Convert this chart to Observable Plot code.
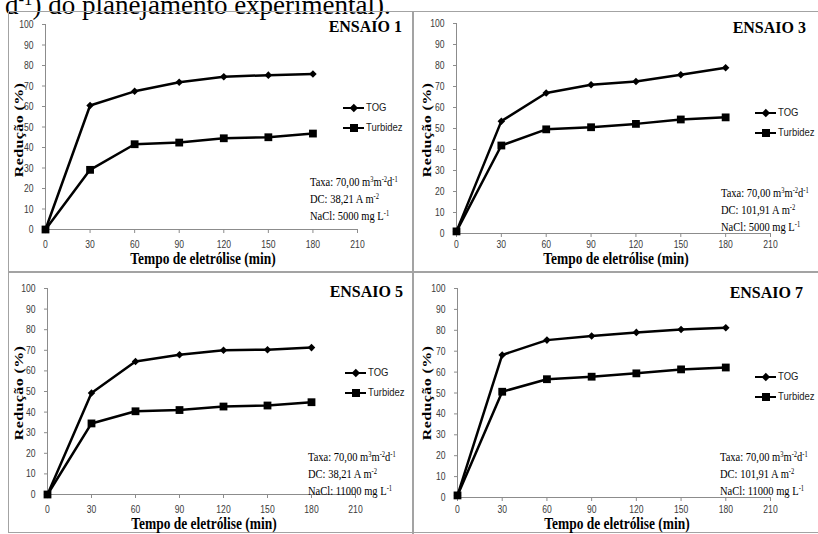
<!DOCTYPE html>
<html><head><meta charset="utf-8">
<script src="https://cdn.jsdelivr.net/npm/d3@7"></script>
<script src="https://cdn.jsdelivr.net/npm/@observablehq/plot@0.6"></script>
<style>
body{margin:0;background:#fff;}
#page{position:relative;width:818px;height:534px;overflow:hidden;background:#fff;}
.abs{position:absolute;white-space:nowrap;line-height:1;}
.serif{font-family:"Liberation Serif","Times New Roman",serif;color:#000;}
.sans{font-family:"Liberation Sans",Arial,sans-serif;color:#1a1a1a;}
sup{font-size:0.62em;vertical-align:0.5em;line-height:0;}
.plotbox{position:absolute;}
</style></head><body><div id="page"></div>
<script>
// ---------------- data ----------------
const times = [0, 30, 60, 90, 120, 150, 180];
const xTicks = [0, 30, 60, 90, 120, 150, 180, 210];
const yTicks = [0, 10, 20, 30, 40, 50, 60, 70, 80, 90, 100];
const seriesNames = ["TOG", "Turbidez"];

const tog1  = [0, 60.5, 67.4, 71.8, 74.5, 75.3, 75.9];
const turb1 = [0, 29.1, 41.6, 42.4, 44.5, 45.0, 46.8];
const tog3  = [1, 53.5, 66.9, 70.8, 72.4, 75.6, 78.9];
const turb3 = [1, 41.9, 49.6, 50.6, 52.2, 54.3, 55.3];
const tog5  = [0, 49.3, 64.6, 67.8, 70.0, 70.3, 71.3];
const turb5 = [0, 34.5, 40.4, 41.0, 42.7, 43.2, 44.8];
const tog7  = [1, 68.2, 75.3, 77.3, 79.0, 80.4, 81.2];
const turb7 = [1, 50.6, 56.6, 57.8, 59.4, 61.3, 62.2];

const ensaioLabels = ["ENSAIO 1", "ENSAIO 3", "ENSAIO 5", "ENSAIO 7"];
const taxaLabel = "Taxa: 70,00 m<sup>3</sup>m<sup>-2</sup>d<sup>-1</sup>";
const dcLabels = ["DC: 38,21 A m<sup>-2</sup>", "DC: 101,91 A m<sup>-2</sup>", "DC: 38,21 A m<sup>-2</sup>", "DC: 101,91 A m<sup>-2</sup>"];
const naclLabels = ["NaCl: 5000 mg L<sup>-1</sup>", "NaCl: 5000 mg L<sup>-1</sup>", "NaCl: 11000 mg L<sup>-1</sup>", "NaCl: 11000 mg L<sup>-1</sup>"];
const xTitle = "Tempo de eletrólise (min)";
const yTitle = "Redução (%)";
const headerText = "d<sup>-1</sup>) do planejamento experimental).";

// ---------------- layout ----------------
const AXIS = "#8c8c8c", TICKTXT = "#3a3a3a";
const layouts = [
  {tog: tog1, turb: turb1, box: [8, 11, 405, 261], m: [13, 56, 43, 37], pad: 7, ens: [402, 26.5], leg: [343, 108], ann: [310, 182], xt: [203, 259], yt: [19, 130]},
  {tog: tog3, turb: turb3, box: [413, 11, 405, 261], m: [12, 48, 39, 43], pad: 3, ens: [806, 28], leg: [755, 113], ann: [721, 193], xt: [616, 259], yt: [427, 130]},
  {tog: tog5, turb: turb5, box: [8, 272, 405, 261], m: [16, 58, 39, 39], pad: 7, ens: [403, 292], leg: [345, 373], ann: [308, 457], xt: [204, 524], yt: [19, 393]},
  {tog: tog7, turb: turb7, box: [413, 272, 405, 261], m: [16, 48, 36, 44], pad: 4, ens: [803, 293], leg: [755, 377], ann: [720, 457], xt: [617, 524], yt: [427, 393]}
];

const page = document.getElementById("page");

function addText(html, x, y, o) {
  const d = document.createElement("div");
  d.className = "abs " + (o.cls || "serif");
  d.innerHTML = html;
  d.style.left = x + "px";
  d.style.top = y + "px";
  d.style.fontSize = o.size + "px";
  if (o.bold) d.style.fontWeight = "bold";
  if (o.ls) d.style.letterSpacing = o.ls + "px";
  const sx = o.sx || 1;
  let tr, origin;
  if (o.rotate) { tr = `translate(-50%,-50%) rotate(${o.rotate}deg) scaleY(${sx})`; origin = "center center"; }
  else if (o.anchor === "right") { tr = `translate(-100%,-50%) scaleX(${sx})`; origin = "right center"; }
  else if (o.anchor === "center") { tr = `translate(-50%,-50%) scaleX(${sx})`; origin = "center center"; }
  else { tr = `translate(0,-50%) scaleX(${sx})`; origin = "left center"; }
  d.style.transform = tr;
  d.style.transformOrigin = origin;
  page.appendChild(d);
  return d;
}
function addBox(x, y, w, h, css) {
  const d = document.createElement("div");
  d.style.position = "absolute";
  d.style.left = x + "px"; d.style.top = y + "px";
  d.style.width = w + "px"; d.style.height = h + "px";
  Object.assign(d.style, css);
  page.appendChild(d);
  return d;
}

// header (cut off at the top, as in the source)
addText(headerText, 5, 5, {size: 27});

// frame lines
addBox(8, 11, 820, 522, {border: "1px solid #a3a3a3", boxSizing: "border-box"});
addBox(412, 11, 2, 523, {background: "#a3a3a3"});
addBox(8, 271, 812, 2, {background: "#a3a3a3"});

layouts.forEach((p, k) => {
  const rows = times.flatMap((t, i) => [
    {t, v: p.tog[i], s: seriesNames[0]},
    {t, v: p.turb[i], s: seriesNames[1]}
  ]);
  const [bx, by, bw, bh] = p.box;
  const [mt, mr, mb, ml] = p.m;
  const svg = Plot.plot({
    width: bw, height: bh,
    marginTop: mt, marginRight: mr, marginBottom: mb, marginLeft: ml,
    x: {domain: [0, 210]},
    y: {domain: [0, 100]},
    style: {background: "transparent", overflow: "visible", fontFamily: "'Liberation Sans', Arial, sans-serif"},
    marks: [
      Plot.ruleY([0], {stroke: AXIS, strokeWidth: 1}),
      Plot.ruleX([0], {stroke: AXIS, strokeWidth: 1}),
      Plot.axisX({ticks: xTicks, tickSize: 4, tickPadding: p.pad, stroke: AXIS, fill: TICKTXT, fontSize: 11, label: null, tickFormat: d => String(d)}),
      Plot.axisY({ticks: yTicks, tickSize: 3, tickPadding: 9, stroke: AXIS, fill: TICKTXT, fontSize: 11, label: null, tickFormat: d => String(d)}),
      Plot.line(rows, {x: "t", y: "v", z: "s", stroke: "#000", strokeWidth: 2.5}),
      Plot.dot(rows.filter(d => d.s === seriesNames[0]), {x: "t", y: "v", symbol: "diamond2", r: 3.4, fill: "#000", stroke: "none"}),
      Plot.dot(rows.filter(d => d.s === seriesNames[1]), {x: "t", y: "v", symbol: "square", r: 4.4, fill: "#000", stroke: "none"})
    ]
  });
  const holder = document.createElement("div");
  holder.className = "plotbox";
  holder.style.left = bx + "px"; holder.style.top = by + "px";
  holder.appendChild(svg);
  page.appendChild(holder);
  // narrow the tick labels like the source's condensed face
  svg.querySelectorAll('g[aria-label$="tick label"] text').forEach(t => {
    const L = t.getComputedTextLength();
    if (L > 0) { t.setAttribute("textLength", (L * 0.78).toFixed(2)); t.setAttribute("lengthAdjust", "spacingAndGlyphs"); }
  });

  // texts
  addText(ensaioLabels[k], p.ens[0], p.ens[1], {size: 16, bold: true, anchor: "right"});
  addText(xTitle, p.xt[0], p.xt[1], {size: 16, bold: true, anchor: "center", sx: 0.84});
  addText(yTitle, p.yt[0], p.yt[1], {size: 16, bold: true, rotate: -90, ls: 0.4, sx: 0.8});
  addText(taxaLabel, p.ann[0], p.ann[1], {size: 12.5, sx: 0.84});
  addText(dcLabels[k], p.ann[0], p.ann[1] + 17, {size: 12.5, sx: 0.84});
  addText(naclLabels[k], p.ann[0], p.ann[1] + 34, {size: 12.5, sx: 0.84});

  // legend
  const [lx, ly] = p.leg;
  seriesNames.forEach((name, j) => {
    const yy = ly + j * 20;
    addBox(lx, yy - 1.25, 21, 2.5, {background: "#000"});
    if (j === 0) addBox(lx + 10.5 - 2.8, yy - 2.8, 5.6, 5.6, {background: "#000", transform: "rotate(45deg)"});
    else addBox(lx + 10.5 - 4, yy - 4, 8, 8, {background: "#000"});
    addText(name, lx + 23, yy, {size: 10, cls: "sans", sx: 0.95});
  });
});
</script></body></html>
